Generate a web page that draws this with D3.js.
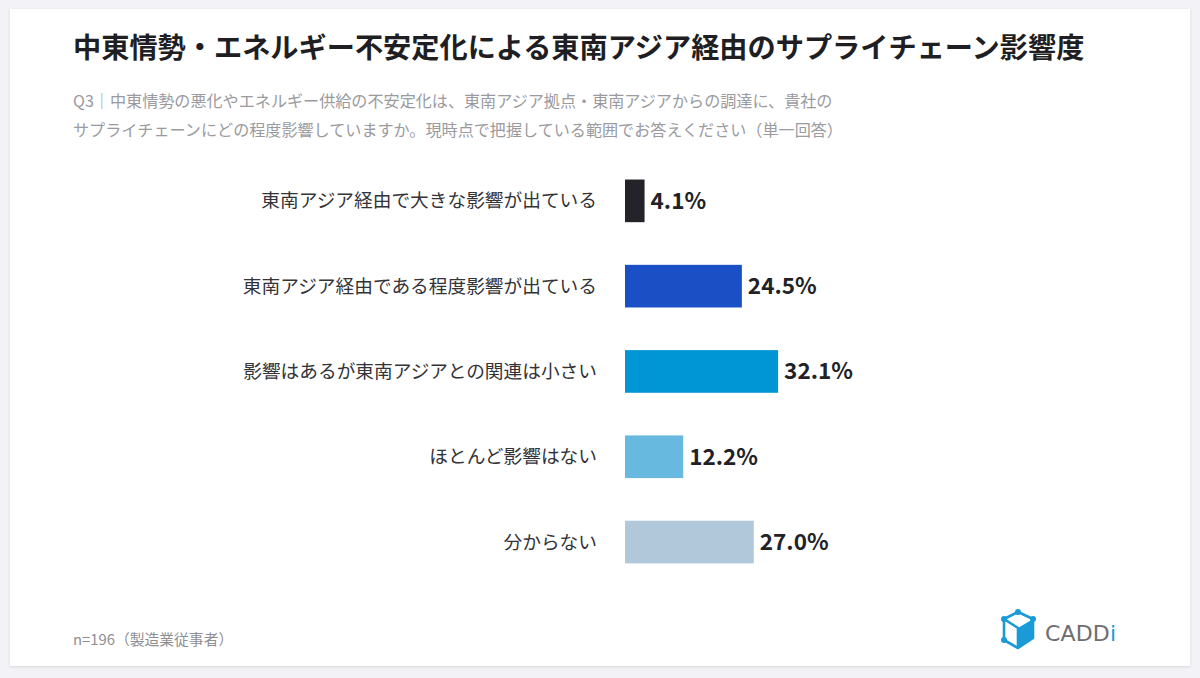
<!DOCTYPE html>
<html><head><meta charset="utf-8">
<script src="https://cdn.jsdelivr.net/npm/d3@7"></script>
<style>
html,body{margin:0;padding:0;background:#f3f3f7;}
svg{display:block;font-family:"Noto Sans CJK JP","Noto Sans",sans-serif;}
</style></head>
<body>
<svg id="chart" width="1200" height="678"></svg>
<script>
const title = "中東情勢・エネルギー不安定化による東南アジア経由のサプライチェーン影響度";
const subtitleLines = [
  "Q3｜中東情勢の悪化やエネルギー供給の不安定化は、東南アジア拠点・東南アジアからの調達に、貴社の",
  "サプライチェーンにどの程度影響していますか。現時点で把握している範囲でお答えください（単一回答）"
];
const footnote = "n=196（製造業従事者）";
const categories = [
  "東南アジア経由で大きな影響が出ている",
  "東南アジア経由である程度影響が出ている",
  "影響はあるが東南アジアとの関連は小さい",
  "ほとんど影響はない",
  "分からない"
];
const values = [4.1, 24.5, 32.1, 12.2, 27.0];
const colors = ["#232329", "#1a4fc5", "#0096d6", "#68b9df", "#b0c8da"];

const svg = d3.select("#chart");

// card
const defs = svg.append("defs");
const f = defs.append("filter").attr("id","sh").attr("x","-5%").attr("y","-5%").attr("width","110%").attr("height","110%");
f.append("feDropShadow").attr("dx",0).attr("dy",1).attr("stdDeviation",1.5).attr("flood-color","#000").attr("flood-opacity",0.12);
svg.append("rect").attr("x",10).attr("y",9).attr("width",1180).attr("height",657)
  .attr("fill","#ffffff").attr("filter","url(#sh)");

svg.append("text").attr("x",73).attr("y",57.5).attr("font-size",28.2).attr("font-weight",700)
  .attr("fill","#1e1e23").text(title);

svg.selectAll(".sub").data(subtitleLines).enter().append("text")
  .attr("x",73).attr("y",(d,i)=>106.8+i*29).attr("font-size",16.1).attr("fill","#9a9a9f").text(d=>d);

const x = d3.scaleLinear().domain([0,100]).range([625,1102]);
const y = d3.scaleBand().domain(categories).range([158.2, 584.7]).paddingInner(0.5).paddingOuter(0.25);

svg.selectAll(".bar").data(values).enter().append("rect")
  .attr("x",x(0)).attr("y",(d,i)=>y(categories[i]))
  .attr("width",d=>x(d)-x(0)).attr("height",y.bandwidth())
  .attr("fill",(d,i)=>colors[i]);

svg.selectAll(".val").data(values).enter().append("text")
  .attr("x",d=>x(d)+6).attr("y",(d,i)=>y(categories[i])+y.bandwidth()/2)
  .attr("dy","0.35em").attr("font-size",22.5).attr("font-weight",700).attr("fill","#222226")
  .text(d=>d.toFixed(1)+"%");

const yAxis = d3.axisLeft(y).tickSize(0).tickPadding(0);
const ag = svg.append("g").attr("transform","translate(597,0)").call(yAxis);
ag.select(".domain").remove();
ag.selectAll("text").attr("font-size",18.7).attr("fill","#333338")
  .attr("font-family",'"Noto Sans CJK JP","Noto Sans",sans-serif').attr("dy","0.35em");

svg.append("text").attr("x",73).attr("y",645).attr("font-size",14.8).attr("fill","#8e8e93").text(footnote);

// logo
const lg = svg.append("g").attr("transform","translate(1000,611)");
const blue = "#1a9ad6";
lg.append("path").attr("d","M4,8 L18,1 L33,8 L33,27 L18,37 L4,29 Z").attr("fill","none").attr("stroke",blue).attr("stroke-width",2.6).attr("stroke-linejoin","round");
lg.append("path").attr("d","M18,17 L33,8 L33,27 L18,37 Z").attr("fill",blue);
lg.append("path").attr("d","M4,8 L18,17 L18,37").attr("fill","none").attr("stroke",blue).attr("stroke-width",2.6);
[[4,8],[18,1],[33,8],[4,29]].forEach(p=>lg.append("circle").attr("cx",p[0]).attr("cy",p[1]).attr("r",3).attr("fill",blue));
const tg = svg.append("text").attr("x",1045).attr("y",641).attr("font-size",22).attr("font-family","'DejaVu Sans', sans-serif")
  .attr("letter-spacing",2).attr("textLength",73);
tg.append("tspan").attr("fill","#6d6d72").text("CADD");
tg.append("tspan").attr("fill",blue).text("i");
</script>
</body></html>
